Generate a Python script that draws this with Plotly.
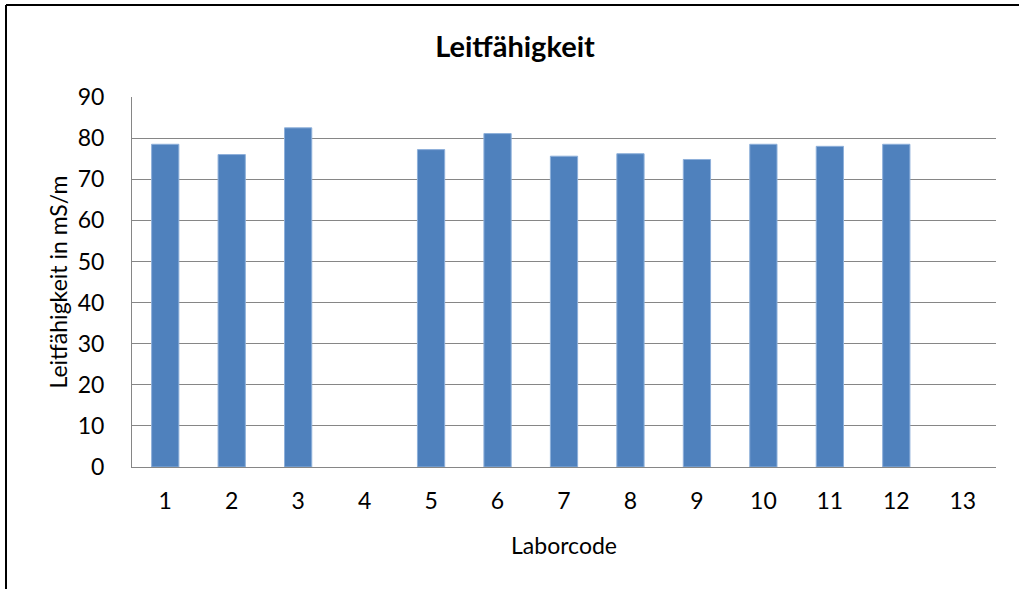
import plotly.graph_objects as go

laborcode = [str(i) for i in range(1, 14)]
leitfaehigkeit = [78.5, 76.0, 82.5, None, 77.2, 81.1, 75.6, 76.2, 74.8, 78.5, 78.0, 78.5, None]
y_ticks = [0, 10, 20, 30, 40, 50, 60, 70, 80, 90]

FONT = "Lato"
W, H = 1019, 589
L, R, T, B = 132, 996, 97, 467

fig = go.Figure(go.Bar(
    x=laborcode, y=leitfaehigkeit,
    marker=dict(color="#4F81BD", line=dict(color="#8EB0DA", width=1)),
))

def px2x(px):
    return (px - L) / (R - L)

def py2y(py):
    return (B - py) / (B - T)

fig.update_layout(
    width=W, height=H,
    margin=dict(l=L, r=W - R, t=T, b=H - B),
    paper_bgcolor="white", plot_bgcolor="white",
    bargap=0.59,
    showlegend=False,
    title=dict(text="<b>Leitfähigkeit</b>", x=515 / W, xanchor="center",
               y=1 - 47 / H, yanchor="middle",
               font=dict(family=FONT, size=29, color="black")),
    font=dict(family=FONT, size=23, color="black"),
    xaxis=dict(
        type="category", showgrid=False, showline=True, linecolor="#868686",
        linewidth=1, ticks="", ticklabelstandoff=13,
        title=dict(text="Laborcode", standoff=25, font=dict(size=23)),
        tickfont=dict(size=23),
    ),
    yaxis=dict(
        range=[0, 90], tickvals=y_ticks, showgrid=True, gridcolor="#868686",
        gridwidth=1, showline=True, linecolor="#868686", linewidth=1,
        ticks="", ticklabelstandoff=22, zeroline=False,
        title=dict(text="Leitfähigkeit in mS/m", standoff=3, font=dict(size=23)),
        tickfont=dict(size=23),
    ),
    shapes=[
        dict(type="line", xref="paper", yref="paper",
             x0=px2x(6), x1=px2x(1030), y0=py2y(5), y1=py2y(5),
             line=dict(color="black", width=2)),
        dict(type="line", xref="paper", yref="paper",
             x0=px2x(6), x1=px2x(6), y0=py2y(5), y1=py2y(600),
             line=dict(color="black", width=2)),
    ],
)

fig.write_html("out.html", config={"displayModeBar": False},
               post_script="document.body.style.margin='0';")
